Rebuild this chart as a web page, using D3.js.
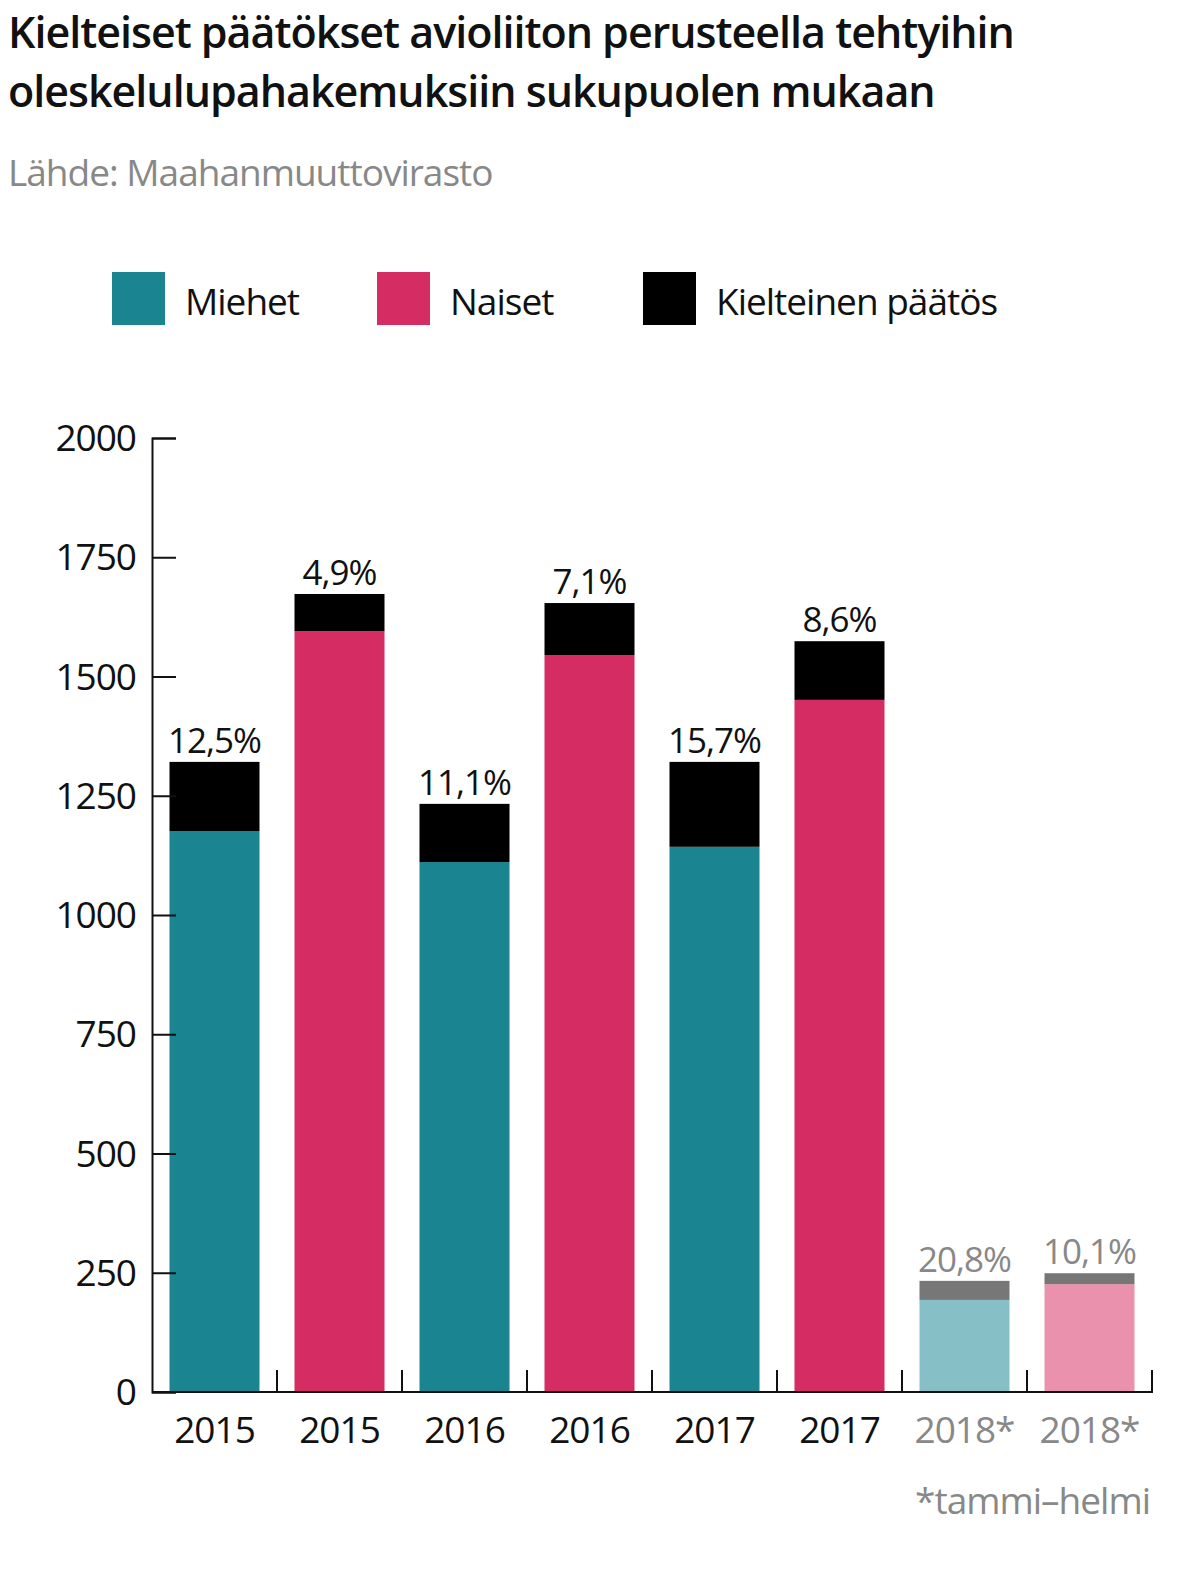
<!DOCTYPE html>
<html><head><meta charset="utf-8">
<script src="https://cdn.jsdelivr.net/npm/d3@7"></script>
<style>body{margin:0;background:#fff}text{font-family:"Open Sans",sans-serif;letter-spacing:-1px}</style>
</head><body>
<svg id="c" width="1199" height="1571"></svg>
<script>
// data
const labels = ["2015", "2015", "2016", "2016", "2017", "2017", "2018*", "2018*"];
const gender = ["m", "n", "m", "n", "m", "n", "m", "n"];
const accepted = [1176, 1595, 1111, 1545, 1143, 1451, 193, 226];
const totals = [1321, 1673, 1233, 1654, 1321, 1574, 233, 249];
const pct = ["12,5%", "4,9%", "11,1%", "7,1%", "15,7%", "8,6%", "20,8%", "10,1%"];
const yTicks = [0, 250, 500, 750, 1000, 1250, 1500, 1750, 2000];

const svg = d3.select("#c");
const x = d3.scaleBand().domain(d3.range(8)).range([152, 1152]).paddingInner(0.28).paddingOuter(0.14);
const y = d3.scaleLinear().domain([0, 2000]).range([1392, 438]);

svg.append("text").attr("x", 8).attr("y", 48).attr("font-size", 43).attr("font-weight", 600).attr("fill", "#111").text("Kielteiset päätökset avioliiton perusteella tehtyihin");
svg.append("text").attr("x", 8).attr("y", 107).attr("font-size", 43).attr("font-weight", 600).attr("fill", "#111").text("oleskelulupahakemuksiin sukupuolen mukaan");
svg.append("text").attr("x", 8).attr("y", 186).attr("font-size", 37).attr("fill", "#888").text("Lähde: Maahanmuuttovirasto");

const legend = [["Miehet", "#1a8490", 112], ["Naiset", "#d42c63", 377], ["Kielteinen päätös", "#000", 643]];
legend.forEach(([t, c, lx]) => {
  svg.append("rect").attr("x", lx).attr("y", 272).attr("width", 53).attr("height", 53).attr("fill", c);
  svg.append("text").attr("x", lx + 73).attr("y", 315).attr("font-size", 37).attr("fill", "#111").text(t);
});

const isLate = i => labels[i].includes("*");
const col = i => gender[i] === "m" ? (isLate(i) ? "#86bfc6" : "#1a8490") : (isLate(i) ? "#e991ad" : "#d42c63");

const g = svg.append("g");
d3.range(8).forEach(i => {
  g.append("rect").attr("x", x(i)).attr("width", x.bandwidth()).attr("y", y(accepted[i])).attr("height", y(0) - y(accepted[i])).attr("fill", col(i));
  g.append("rect").attr("x", x(i)).attr("width", x.bandwidth()).attr("y", y(totals[i])).attr("height", y(accepted[i]) - y(totals[i])).attr("fill", isLate(i) ? "#777" : "#000");
  g.append("text").attr("x", x(i) + x.bandwidth() / 2).attr("y", y(totals[i]) - 9).attr("text-anchor", "middle")
    .attr("font-size", 35).attr("fill", isLate(i) ? "#888" : "#111").text(pct[i]);
  g.append("text").attr("x", x(i) + x.bandwidth() / 2).attr("y", 1443).attr("text-anchor", "middle")
    .attr("font-size", 37).attr("fill", isLate(i) ? "#888" : "#111").text(labels[i]);
});

// y axis
const ya = svg.append("g").attr("transform", "translate(152,0)").call(d3.axisRight(y).tickValues(yTicks).tickSize(24).tickFormat(""));
ya.selectAll("path,line").attr("stroke", "#111").attr("stroke-width", 2);
yTicks.forEach(v => svg.append("text").attr("x", 136).attr("y", y(v) + 13).attr("text-anchor", "end").attr("font-size", 37).attr("fill", "#111").text(v));

// x axis with band boundary ticks
svg.append("line").attr("x1", 152).attr("x2", 1153).attr("y1", y(0)).attr("y2", y(0)).attr("stroke", "#111").attr("stroke-width", 2);
d3.range(1, 9).forEach(i => {
  const bx = i === 8 ? 1152 : (x(i - 1) + x.bandwidth() + x(i)) / 2;
  svg.append("line").attr("x1", bx).attr("x2", bx).attr("y1", y(0) - 22).attr("y2", y(0)).attr("stroke", "#111").attr("stroke-width", 2);
});

svg.append("text").attr("x", 1150).attr("y", 1514).attr("text-anchor", "end").attr("font-size", 37).attr("fill", "#888").text("*tammi–helmi");
</script>
</body></html>
